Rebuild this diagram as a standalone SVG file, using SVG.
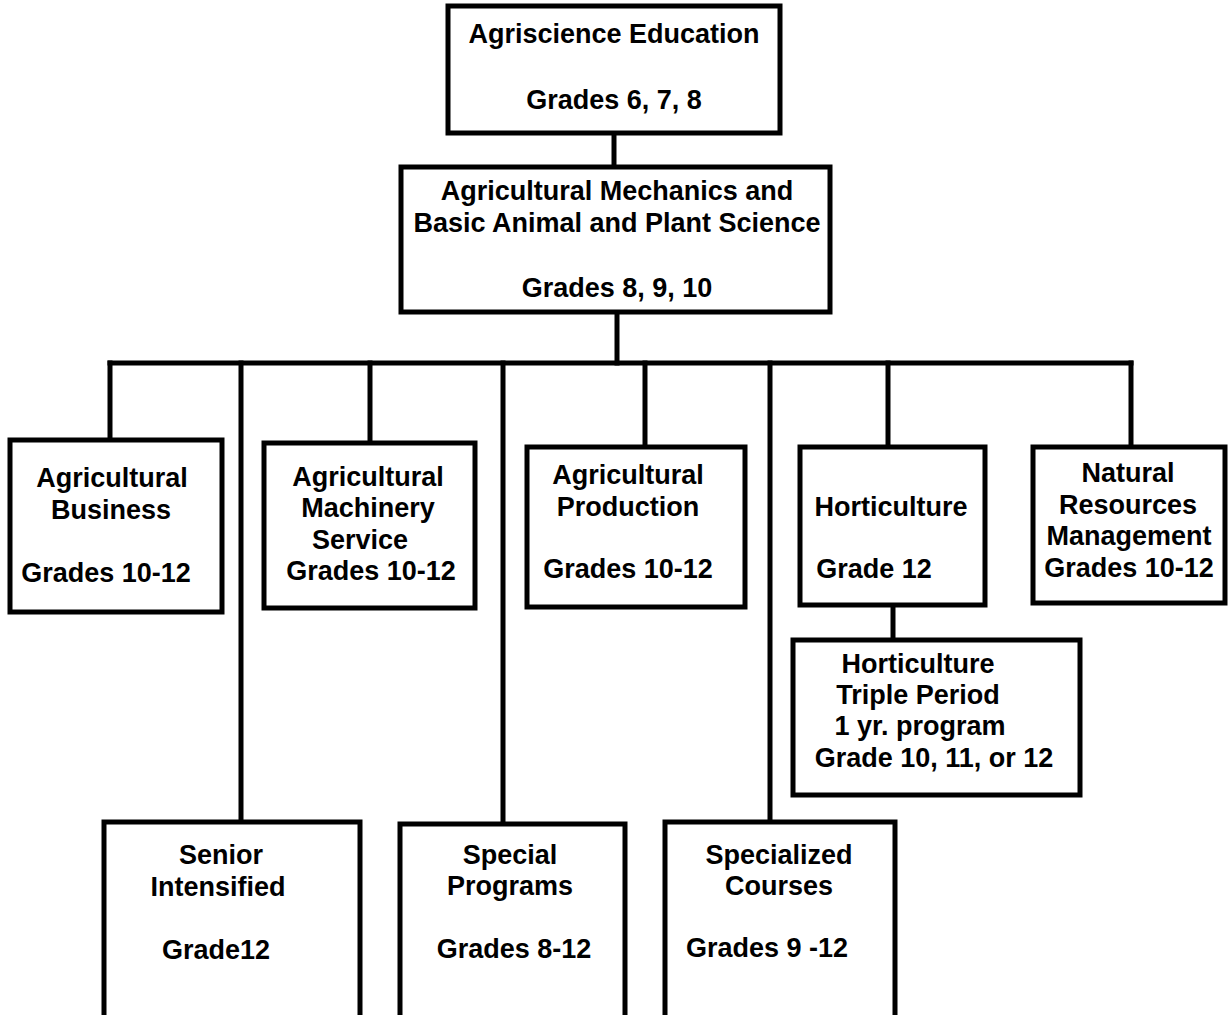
<svg xmlns="http://www.w3.org/2000/svg" width="1230" height="1015" viewBox="0 0 1230 1015">
<style>
.box{fill:#fff;stroke:#000;stroke-width:5}
.ln{stroke:#000;stroke-width:5;fill:none;stroke-linecap:square}
text{font-family:"Liberation Sans",Arial,sans-serif;font-weight:bold;font-size:27px;fill:#000;text-anchor:middle}
</style>
<rect width="1230" height="1015" fill="#fff"/>
<g id="connectors">
<path class="ln" d="M614 133V167"/>
<path class="ln" d="M617 312V363"/>
<path class="ln" d="M110 363H1131"/>
<path class="ln" d="M110 363V440"/>
<path class="ln" d="M241 363V822"/>
<path class="ln" d="M370 363V443"/>
<path class="ln" d="M503 363V824"/>
<path class="ln" d="M645 363V447"/>
<path class="ln" d="M770 363V822"/>
<path class="ln" d="M888 363V447"/>
<path class="ln" d="M1131 363V447"/>
<path class="ln" d="M893 605V640"/>
</g>
<g id="n-agriscience">
<rect class="box" x="448" y="6" width="332" height="127"/>
<text x="614" y="43">Agriscience Education</text>
<text x="614" y="109">Grades 6, 7, 8</text>
</g>
<g id="n-mechanics">
<rect class="box" x="401" y="167" width="429" height="145"/>
<text x="617" y="200">Agricultural Mechanics and</text>
<text x="617" y="232">Basic Animal and Plant Science</text>
<text x="617" y="297">Grades 8, 9, 10</text>
</g>
<g id="n-business">
<rect class="box" x="10" y="440" width="212" height="172"/>
<text x="112" y="487">Agricultural</text>
<text x="111" y="519">Business</text>
<text x="106" y="582">Grades 10-12</text>
</g>
<g id="n-machinery">
<rect class="box" x="264" y="443" width="211" height="165"/>
<text x="368" y="486">Agricultural</text>
<text x="368" y="517">Machinery</text>
<text x="360" y="549">Service</text>
<text x="371" y="580">Grades 10-12</text>
</g>
<g id="n-production">
<rect class="box" x="527" y="447" width="218" height="160"/>
<text x="628" y="484">Agricultural</text>
<text x="628" y="516">Production</text>
<text x="628" y="578">Grades 10-12</text>
</g>
<g id="n-horticulture">
<rect class="box" x="800" y="447" width="185" height="158"/>
<text x="891" y="516">Horticulture</text>
<text x="874" y="578">Grade 12</text>
</g>
<g id="n-natural">
<rect class="box" x="1033" y="447" width="192" height="156"/>
<text x="1128" y="482">Natural</text>
<text x="1128" y="514">Resources</text>
<text x="1129" y="545">Management</text>
<text x="1129" y="577">Grades 10-12</text>
</g>
<g id="n-triple">
<rect class="box" x="793" y="640" width="287" height="155"/>
<text x="918" y="673">Horticulture</text>
<text x="918" y="704">Triple Period</text>
<text x="920" y="735">1 yr. program</text>
<text x="934" y="767">Grade 10, 11, or 12</text>
</g>
<g id="n-senior">
<rect class="box" x="104" y="822" width="256" height="200"/>
<text x="221" y="864">Senior</text>
<text x="218" y="896">Intensified</text>
<text x="216" y="959">Grade12</text>
</g>
<g id="n-special">
<rect class="box" x="400" y="824" width="225" height="200"/>
<text x="510" y="864">Special</text>
<text x="510" y="895">Programs</text>
<text x="514" y="958">Grades 8-12</text>
</g>
<g id="n-specialized">
<rect class="box" x="665" y="822" width="230" height="200"/>
<text x="779" y="864">Specialized</text>
<text x="779" y="895">Courses</text>
<text x="767" y="957">Grades 9 -12</text>
</g>
</svg>
